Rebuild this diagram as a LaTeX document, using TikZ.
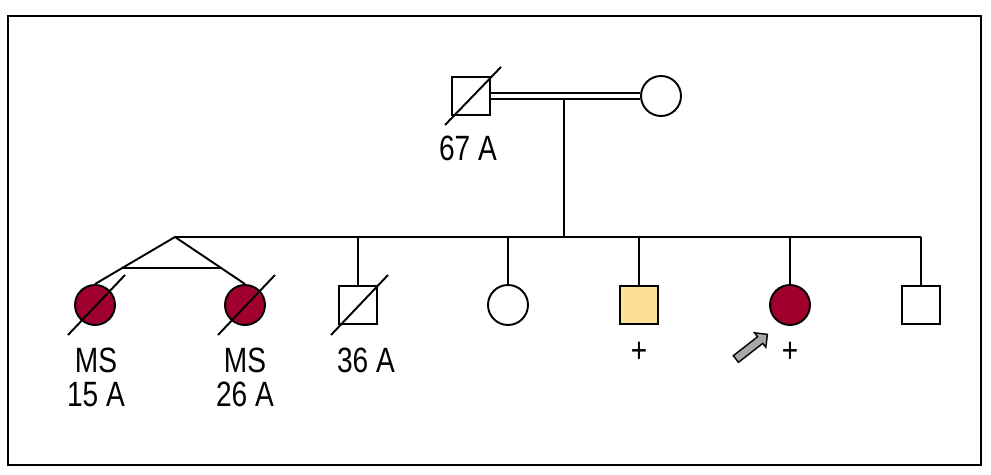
\documentclass[tikz,border=0pt]{standalone}
\usepackage{fontspec}
\setmainfont{Liberation Sans}[FakeStretch=0.8]
\usetikzlibrary{calc,shapes.arrows}

\definecolor{msred}{HTML}{A0002D}
\definecolor{carrier}{HTML}{FFDF96}
\definecolor{arrowgray}{HTML}{A8A8A8}

\tikzset{
  male/.style={draw, rectangle, minimum size=0.76cm, inner sep=0pt},
  female/.style={draw, circle, minimum size=0.8cm, inner sep=0pt},
  affected/.style={fill=msred},
  agelbl/.style={font=\fontsize{20}{19.3}\selectfont, align=center, inner sep=0pt},
}

\begin{document}
\begin{tikzpicture}[x=0.02cm, y=-0.02cm, line width=1.1pt]
    \useasboundingbox (0,0) rectangle (991,475);
    \draw[line width=1.5pt] (8,16) rectangle (981,465);

    % parents
    \node[male] (f) at (471,96) {};
    \node[female] (m) at (661,96) {};
    \coordinate (cpl) at ($(f)!0.49!(m)$);
    \coordinate (apex) at (175,237);
    \coordinate (sibR) at (921,237);
    \draw (cpl) -- (cpl |- apex);
    \draw[double, double distance=2.3pt] (f) -- (m);
    \draw (f.center) ++(-26,29) -- ++(56,-58);
    \node[agelbl] (fage) at (468,148) {67 A};

    % sibship
    \draw (apex) -- (sibR);
    \node[female, affected] (tw1) at (95,305) {};
    \node[female, affected] (tw2) at (245,305) {};
    \node[male] (b1) at (358,305) {};
    \node[female] (s1) at (508,305) {};
    \node[male, fill=carrier] (b2) at (639,305) {};
    \node[female, affected] (pro) at (790,305) {};
    \node[male] (b3) at (921,305) {};

    \foreach \c in {b1,s1,b2,pro,b3}
        \draw (\c |- apex) -- (\c);

    % twins
    \draw (tw1.north) -- (apex) -- (tw2.north);
    \draw ($(apex)!0.65!(tw1.north)$) -- ($(apex)!0.65!(tw2.north)$);

    % deceased
    \foreach \c in {tw1,tw2,b1}
        \draw (\c.center) ++(-27,30) -- ++(57,-60);

    \node[agelbl] (tw1lbl) at (96,377) {MS\\15 A};
    \node[agelbl] (tw2lbl) at (245,377) {MS\\26 A};
    \node[agelbl] (b1lbl) at (366,360) {36 A};
    \node[agelbl] (b2lbl) at (639,352) {+};
    \node[agelbl] (prolbl) at (790,352) {+};

    % proband
    \node[single arrow, draw, fill=arrowgray, line width=0.8pt, inner sep=0.07cm,
          single arrow head extend=0.1cm, minimum height=0.8cm, rotate=38] (arr) at (750,348) {};
\end{tikzpicture}
\end{document}
